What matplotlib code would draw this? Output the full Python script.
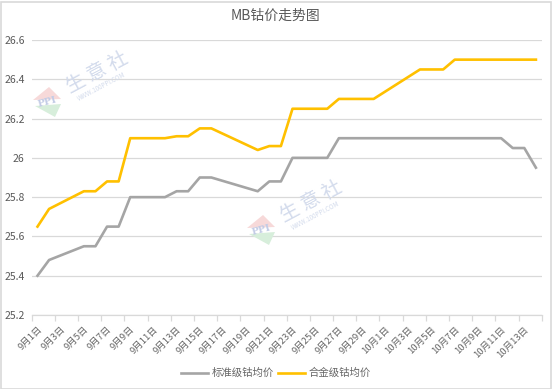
import datetime as dt
import matplotlib
matplotlib.use("Agg")
import matplotlib.pyplot as plt
from matplotlib.patches import Polygon, Rectangle

plt.rcParams['font.family'] = ['Noto Sans CJK SC', 'DejaVu Sans']

# data (day index from 9月1日)
start = dt.date(2023, 9, 1)
day_idx = [0, 1, 4, 5, 6, 7, 8, 11, 12, 13, 14, 15, 19, 20, 21, 22, 25, 26,
           29, 33, 35, 36, 40, 41, 42, 43]
standard = [25.40, 25.48, 25.55, 25.55, 25.65, 25.65, 25.80, 25.80, 25.83, 25.83,
            25.90, 25.90, 25.83, 25.88, 25.88, 26.00, 26.00, 26.10, 26.10, 26.10,
            26.10, 26.10, 26.10, 26.05, 26.05, 25.95]
alloy = [25.65, 25.74, 25.83, 25.83, 25.88, 25.88, 26.10, 26.10, 26.11, 26.11,
         26.15, 26.15, 26.04, 26.06, 26.06, 26.25, 26.25, 26.30, 26.30, 26.45,
         26.45, 26.50, 26.50, 26.50, 26.50, 26.50]
n_days = 44
yticks = [25.2, 25.4, 25.6, 25.8, 26.0, 26.2, 26.4, 26.6]
ytick_labels = ["25.2", "25.4", "25.6", "25.8", "26", "26.2", "26.4", "26.6"]
series_names = ["标准级钴均价", "合金级钴均价"]

W, H = 553, 389
fig = plt.figure(figsize=(W / 100, H / 100), dpi=100)
ax = fig.add_axes([31.7 / W, 1 - 315 / H, 510 / W, 275 / H])

txt = "#595959"
grid = "#D9D9D9"

ax.plot(day_idx, standard, color="#A5A5A5", lw=1.9, label=series_names[0],
        solid_joinstyle="round", zorder=3)
ax.plot(day_idx, alloy, color="#FFC000", lw=1.9, label=series_names[1],
        solid_joinstyle="round", zorder=3)

ax.set_xlim(-0.5, n_days - 0.5)
ax.set_ylim(25.2, 26.6)
ax.set_yticks(yticks)
ax.set_yticklabels(ytick_labels)
ax.yaxis.grid(True, color=grid, lw=0.9)
ax.set_axisbelow(True)

# labels every 2 days at the day centre, tick marks on day boundaries
label_days = list(range(0, n_days, 2))
labels = []
for d in label_days:
    day = start + dt.timedelta(days=d)
    labels.append(f"{day.month}月{day.day}日")
ax.set_xticks(label_days)
ax.set_xticklabels(labels, rotation=45, ha="right", va="top",
                   rotation_mode="anchor", fontsize=6.8, color="#666666")
ax.set_xticks([d - 0.5 for d in range(0, n_days + 1, 2)], minor=True)
ax.tick_params(axis="x", which="major", length=0, pad=7)
ax.tick_params(axis="x", which="minor", length=4, color=grid, width=0.9)
ax.tick_params(axis="y", length=0, pad=5, labelsize=7.5, labelcolor=txt)

for s in ["top", "right", "left"]:
    ax.spines[s].set_visible(False)
ax.spines["bottom"].set_color(grid)
ax.spines["bottom"].set_linewidth(0.9)

fig.text(276 / W, 1 - 16 / H, "MB钴价走势图", ha="center", va="center",
         fontsize=10, color=txt)

fig.legend(loc="center", bbox_to_anchor=(276 / W, 1 - 373 / H), ncol=2,
           frameon=False, fontsize=7.5, labelcolor="#666666", handlelength=2.6,
           handletextpad=0.4, columnspacing=0.3)

# faint watermark
wm = "#D3DBEC"
for (cx, cy), (lx, ly) in [((97, 73), (47, 102)), ((311, 202), (261, 230))]:
    fig.text(cx / W, 1 - cy / H, "生 意 社", ha="center", va="center",
             rotation=28, fontsize=14, color=wm, zorder=0)
    fig.text((cx + 5) / W, 1 - (cy + 14) / H, "WWW.100PPI.COM", ha="center",
             va="center", rotation=28, fontsize=4.5, color=wm, zorder=0)
    fig.patches.append(Polygon([((lx - 14) / W, 1 - (ly - 2) / H),
                                ((lx + 2) / W, 1 - (ly - 15) / H),
                                ((lx + 14) / W, 1 - (ly - 3) / H)],
                               closed=True, transform=fig.transFigure,
                               facecolor="#F7D9D9", edgecolor="none", zorder=0))
    fig.patches.append(Polygon([((lx - 12) / W, 1 - (ly + 4) / H),
                                ((lx + 14) / W, 1 - (ly + 2) / H),
                                ((lx + 8) / W, 1 - (ly + 15) / H)],
                               closed=True, transform=fig.transFigure,
                               facecolor="#D7EEDB", edgecolor="none", zorder=0))
    fig.text(lx / W, 1 - ly / H, "PPI", ha="center", va="center", rotation=15,
             fontsize=7, color="#C3CCE6", fontweight="bold",
             family="DejaVu Serif", zorder=0)

fig.patches.append(Rectangle((0.5 / W, 0.5 / H), (W - 3) / W, (H - 2) / H,
                             transform=fig.transFigure, fill=False,
                             edgecolor="#D9D9D9", lw=1.2))

fig.savefig("out.png", dpi=100)
